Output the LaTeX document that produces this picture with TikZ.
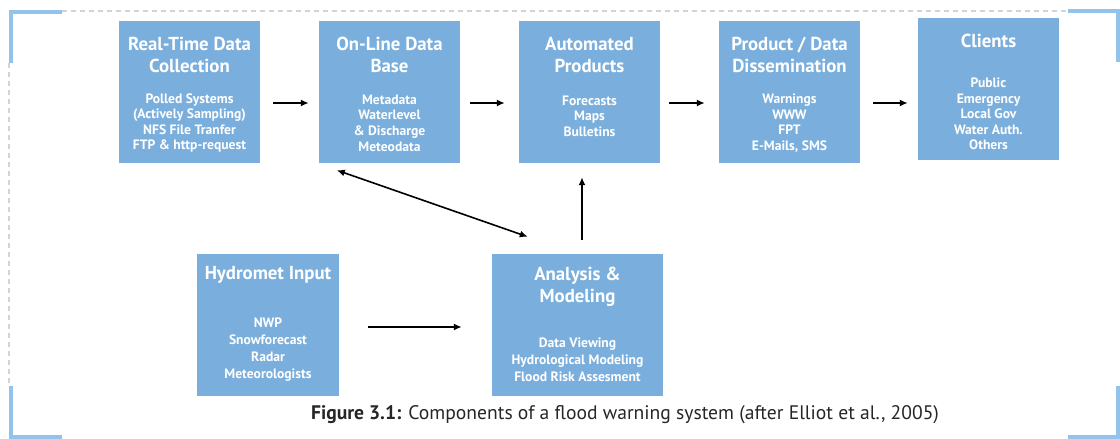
\documentclass[tikz,border=0pt]{standalone}
\usepackage{fontspec}
\setmainfont{PT Sans}
\usetikzlibrary{arrows.meta}
\definecolor{boxblue}{HTML}{7AAEDC}
\definecolor{brblue}{HTML}{92C3EC}
\definecolor{dashgray}{HTML}{D3D3D3}
\tikzset{
  box/.style={fill=boxblue, draw=none, inner sep=0pt},
  ttl/.style={text=white, font=\bfseries\fontsize{18.8}{22}\selectfont, align=center, inner sep=0pt},
  bdy/.style={text=white, font=\bfseries\fontsize{13.6}{15.6}\selectfont, align=center, inner sep=0pt},
  arr/.style={line width=1.6pt, -{Latex[length=8pt,width=7pt]}},
  darr/.style={line width=1.6pt, {Latex[length=8pt,width=7pt]}-{Latex[length=8pt,width=7pt]}},
  frame/.style={dashgray, line width=1.8pt, dash pattern=on 5pt off 4pt},
  bracket/.style={brblue, line width=4pt}
}
\begin{document}
\begin{tikzpicture}[x=1pt,y=-1pt]
\useasboundingbox (0,0) rectangle (1120,439);
% frame
\draw[frame] (62,11) -- (1068,11);
\draw[frame] (9,63) -- (9,386);
\draw[bracket] (11,63) -- (11,11.5) -- (62,11.5);
\draw[bracket] (1068,10.5) -- (1117.5,10.5) -- (1117.5,62);
\draw[bracket] (11,386) -- (11,437) -- (62,437);
\draw[bracket] (1068,437) -- (1117.5,437) -- (1117.5,386);
% boxes
\node[box, minimum width=141, minimum height=142] (b1) at (189.5,92) {};
\node[box, minimum width=141, minimum height=142] (b2) at (389.5,92) {};
\node[box, minimum width=141, minimum height=142] (b3) at (589.5,92) {};
\node[box, minimum width=141, minimum height=142] (b4) at (789.5,92) {};
\node[box, minimum width=141, minimum height=142] (b5) at (988.5,89) {};
\node[box, minimum width=142, minimum height=142] (hyd) at (268,325) {};
\node[box, minimum width=171, minimum height=142] (ana) at (577.5,325) {};
% titles
\node[ttl] (t1) at (189.5,55) {Real-Time Data\\Collection};
\node[ttl] (t2) at (389.5,55) {On-Line Data\\Base};
\node[ttl] (t3) at (589.5,55) {Automated\\Products};
\node[ttl] (t4) at (789.5,55) {Product / Data\\Dissemination};
\node[ttl] (t5) at (988.5,41) {Clients};
\node[ttl] (t6) at (268,275) {Hydromet Input};
\node[ttl] (t7) at (577.5,287) {Analysis \&\\Modeling};
% bodies
\node[bdy] (d1) at (189.5,123) {Polled Systems\\(Actively Sampling)\\NFS File Tranfer\\FTP \& http-request};
\node[bdy] (d2) at (389.5,123) {Metadata\\Waterlevel\\\& Discharge\\Meteodata};
\node[bdy] (d3) at (589.5,116) {Forecasts\\Maps\\Bulletins};
\node[bdy] (d4) at (789.5,123) {Warnings\\WWW\\FPT\\E-Mails, SMS};
\node[bdy] (d5) at (988.5,114) {Public\\Emergency\\Local Gov\\Water Auth.\\Others};
\node[bdy, font=\bfseries\fontsize{13.6}{17}\selectfont] (d6) at (268,350) {NWP\\Snowforecast\\Radar\\Meteorologists};
\node[bdy, font=\bfseries\fontsize{13.6}{17}\selectfont] (d7) at (577.5,360) {Data Viewing\\Hydrological Modeling\\Flood Risk Assesment};
% arrows
\draw[arr, shorten <=13pt, shorten >=10pt] ([yshift=-11]b1.east) -- ([yshift=-11]b2.west);
\draw[arr, shorten <=10pt, shorten >=14pt] ([yshift=-11]b2.east) -- ([yshift=-11]b3.west);
\draw[arr, shorten <=9pt, shorten >=14pt] ([yshift=-11]b3.east) -- ([yshift=-11]b4.west);
\draw[arr, shorten <=13pt, shorten >=10pt] ([yshift=-11]b4.east) -- ([yshift=-14]b5.west);
\draw[arr, shorten <=29pt, shorten >=30pt] ([yshift=-2]hyd.east) -- ([yshift=-2]ana.west);
\draw[arr, shorten <=14pt, shorten >=14pt] ([xshift=4.5]ana.north) -- ([xshift=-7.5]b3.south);
\coordinate (p1) at ([xshift=18,yshift=-7]b2.south west);
\coordinate (p2) at ([xshift=36,yshift=17]ana.north west);
\draw[darr] (p1) -- (p2);
% caption
\node[inner sep=0pt, font=\fontsize{19.6}{22}\selectfont, text=black!85] (cap) at (625,415) {\textbf{Figure 3.1:} Components of a flood warning system (after Elliot et al., 2005)};
\end{tikzpicture}
\end{document}
